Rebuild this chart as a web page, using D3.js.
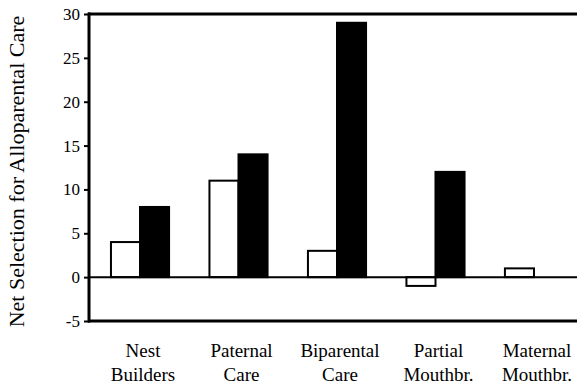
<!DOCTYPE html>
<html>
<head>
<meta charset="utf-8">
<script src="https://cdn.jsdelivr.net/npm/d3@7"></script>
</head>
<body style="margin:0">
<svg id="chart" width="577" height="392"></svg>
<script>
// Categories (two-line labels) and the two series of net selection values
const categories = ["Nest Builders", "Paternal Care", "Biparental Care", "Partial Mouthbr.", "Maternal Mouthbr."];
const labelLines = [["Nest", "Builders"], ["Paternal", "Care"], ["Biparental", "Care"], ["Partial", "Mouthbr."], ["Maternal", "Mouthbr."]];
const openValues = [4, 11, 3, -1, 1];
const filledValues = [8, 14, 29, 12, 0];
const seriesKeys = ["open", "filled"];
const yTicks = [-5, 0, 5, 10, 15, 20, 25, 30];
const yTitle = "Net Selection for Alloparental Care";

const W = 577, H = 392;
const plot = { left: 89, top: 14, bottom: 321, right: W };
const serif = "Tinos, 'Times New Roman', 'Liberation Serif', FreeSerif, serif";

const svg = d3.select("#chart");

const y = d3.scaleLinear().domain([-5, 30]).range([plot.bottom, plot.top]);
const x = d3.scaleBand().domain(categories).range([89, 585]).paddingInner(0.41).paddingOuter(0.223);
const xs = d3.scaleBand().domain(seriesKeys).range([0, x.bandwidth()]);

const rows = categories.map((c, i) => ({ cat: c, open: openValues[i], filled: filledValues[i] }));

// Bars: open (white) and filled (black) per category
const groups = svg.append("g").selectAll("g").data(rows).join("g")
  .attr("transform", d => `translate(${x(d.cat)},0)`);

groups.selectAll("rect")
  .data(d => seriesKeys.map(k => ({ key: k, value: d[k] })).filter(v => v.value !== 0))
  .join("rect")
  .attr("x", d => xs(d.key))
  .attr("width", xs.bandwidth())
  .attr("y", d => y(Math.max(0, d.value)))
  .attr("height", d => Math.abs(y(d.value) - y(0)))
  .attr("fill", d => d.key === "filled" ? "#000" : "#fff")
  .attr("stroke", "#000")
  .attr("stroke-width", 2);

// Zero baseline
svg.append("line")
  .attr("x1", plot.left).attr("x2", plot.right)
  .attr("y1", y(0)).attr("y2", y(0))
  .attr("stroke", "#000").attr("stroke-width", 2);

// Frame: top and bottom rules
svg.append("line")
  .attr("x1", plot.left - 1).attr("x2", plot.right)
  .attr("y1", y(30)).attr("y2", y(30))
  .attr("stroke", "#000").attr("stroke-width", 3);
svg.append("line")
  .attr("x1", plot.left - 1).attr("x2", plot.right)
  .attr("y1", y(-5)).attr("y2", y(-5))
  .attr("stroke", "#000").attr("stroke-width", 3);

// Left axis (plain hyphen for negatives)
const yAxis = d3.axisLeft(y).tickValues(yTicks).tickSize(5).tickPadding(4).tickFormat(d => String(d));
const ga = svg.append("g").attr("transform", `translate(${plot.left},0)`).call(yAxis);
ga.attr("font-family", serif).attr("font-size", 17);
ga.select(".domain").attr("stroke", "#000").attr("stroke-width", 3)
  .attr("d", `M0,${y(30) - 1.5}V${y(-5) + 1.5}`);
ga.selectAll(".tick line").attr("stroke", "#000").attr("stroke-width", 2);
ga.selectAll(".tick text").attr("fill", "#000");

// Category labels, two lines each
svg.append("g").selectAll("text")
  .data(rows.flatMap((d, i) => labelLines[i].map((t, j) => ({ cat: d.cat, t, j }))))
  .join("text")
  .attr("text-anchor", "middle")
  .attr("x", d => x(d.cat) + x.bandwidth() / 2 + 3)
  .attr("y", d => 357 + d.j * 24)
  .attr("font-family", serif)
  .attr("font-size", 19)
  .attr("fill", "#000")
  .text(d => d.t);

// Y title
svg.append("text")
  .attr("transform", `translate(24,${(plot.top + plot.bottom) / 2 + 4}) rotate(-90)`)
  .attr("text-anchor", "middle")
  .attr("font-family", serif)
  .attr("font-size", 22)
  .attr("fill", "#000")
  .text(yTitle);
</script>
</body>
</html>
